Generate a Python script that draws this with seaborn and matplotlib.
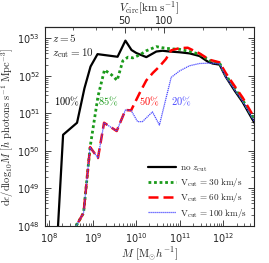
import numpy as np
import pandas as pd
import matplotlib
matplotlib.use("Agg")
import matplotlib.pyplot as plt
import seaborn as sns

# ---- data (log10 values) ----
nocut_logM = [8.18, 8.32, 8.64, 8.81, 8.95, 9.11, 9.57, 9.75, 9.89, 10.0, 10.23, 10.46, 10.60,
              10.76, 10.99, 11.22, 11.45, 11.64, 11.75, 11.91, 12.05, 12.26, 12.44, 12.60, 12.71]
nocut_logY = [47.5, 50.43, 50.75, 51.67, 52.25, 52.58, 52.51, 52.94, 52.69, 52.61, 52.50, 52.65, 52.67,
              52.65, 52.63, 52.60, 52.53, 52.38, 52.33, 52.30, 51.98, 51.60, 51.30, 50.97, 50.75]

v30_logM = [8.50, 8.79, 8.94, 9.12, 9.27, 9.43, 9.56, 9.69, 9.81, 9.92, 10.08, 10.23, 10.46, 10.60,
            10.80, 10.99, 11.22, 11.45, 11.68, 11.91, 12.05, 12.26, 12.44, 12.60, 12.71]
v30_logY = [47.75, 48.35, 50.10, 51.45, 52.16, 52.03, 51.88, 52.40, 52.50, 52.48, 52.56, 52.67, 52.78, 52.75,
            52.72, 52.71, 52.65, 52.58, 52.41, 52.34, 52.03, 51.66, 51.36, 51.03, 50.82]

v60_logM = [8.50, 8.79, 8.94, 9.12, 9.26, 9.55, 9.75, 9.88, 10.08, 10.23, 10.38, 10.53, 10.68,
            10.80, 10.99, 11.18, 11.45, 11.68, 11.91, 12.05, 12.26, 12.44, 12.60, 12.71]
v60_logY = [47.75, 48.35, 50.10, 49.81, 50.75, 50.53, 51.09, 51.08, 51.55, 51.88, 52.08, 52.25, 52.45,
            52.68, 52.74, 52.75, 52.60, 52.43, 52.36, 52.08, 51.72, 51.42, 51.10, 50.88]

v100_logM = [8.50, 8.79, 8.94, 9.12, 9.26, 9.55, 9.75, 9.88, 10.03, 10.14, 10.37, 10.53, 10.80,
             10.99, 11.22, 11.45, 11.68, 11.91, 12.05, 12.26, 12.44, 12.60, 12.71]
v100_logY = [47.75, 48.35, 50.10, 49.81, 50.75, 50.53, 51.09, 51.08, 50.78, 50.78, 51.04, 50.69, 51.96,
             52.13, 52.27, 52.33, 52.34, 52.32, 51.98, 51.62, 51.32, 51.00, 50.78]

labels = [r"$\mathrm{no}\ z_{\rm cut}$", r"$\mathrm{V_{cut}\,=30\ km/s}$",
          r"$\mathrm{V_{cut}\,=60\ km/s}$", r"$\mathrm{V_{cut}\,=100\ km/s}$"]
pct_labels = ["100%", "85%", "50%", "20%"]
pct_logM = [8.40, 9.36, 10.30, 11.04]
pct_logY = 51.31

series = [(nocut_logM, nocut_logY), (v30_logM, v30_logY), (v60_logM, v60_logY), (v100_logM, v100_logY)]
frames = []
for lab, (lm, ly) in zip(labels, series):
    frames.append(pd.DataFrame({"M": 10 ** np.array(lm), "Y": 10 ** np.array(ly), "run": lab}))
df = pd.concat(frames, ignore_index=True)

sns.set_style("ticks")
plt.rcParams["mathtext.fontset"] = "cm"
plt.rcParams["font.family"] = ["DejaVu Sans"]

colors = ["black", "#1a9a1a", "red", "#4a4aff"]
styles = [dict(lw=1.6, ls="-"), dict(lw=2.0, ls=(0, (1, 1))), dict(lw=1.8, ls=(0, (4, 2))),
          dict(lw=0.9, ls=(0, (1, 0.6)))]

fig = plt.figure(figsize=(2.69, 2.63), dpi=100)
ax = fig.add_axes([0.167, 0.141, 0.777, 0.756])

for lab, c, st in zip(labels, colors, styles):
    sns.lineplot(data=df[df["run"] == lab], x="M", y="Y", ax=ax, color=c, label=lab,
                 sort=False, estimator=None, **st)

ax.set_xscale("log")
ax.set_yscale("log")
ax.set_xlim(8e7, 5e12)
ax.set_ylim(1e48, 2e53)
ax.tick_params(which="both", direction="in", top=False, right=True, labelsize=7)
ax.tick_params(which="major", length=4, width=0.6)
ax.tick_params(which="minor", length=2, width=0.5)
for s in ax.spines.values():
    s.set_linewidth(0.8)

ax.set_xlabel(r"$M\ [\mathrm{M_{\odot}}h^{-1}]$", fontsize=8, labelpad=1)
ax.set_ylabel(r"$\mathrm{d}\epsilon/\mathrm{dlog}_{10}M\ [h\ \mathrm{photons\ s^{-1}\ Mpc^{-3}}]$",
              fontsize=7.5, labelpad=1)

def fwd(m):
    m = np.clip(np.asarray(m, dtype=float), 1e-30, None)
    return 50.0 * (m / 10 ** 9.73) ** (1.0 / 3.0)

def inv(v):
    v = np.clip(np.asarray(v, dtype=float), 1e-30, None)
    return 10 ** 9.73 * (v / 50.0) ** 3

sec = ax.secondary_xaxis("top", functions=(fwd, inv))
sec.set_xticks([50, 100])
sec.set_xticklabels(["50", "100"])
sec.set_xticks([20, 30, 40, 60, 70, 80, 90, 200, 300, 400], minor=True)
sec.tick_params(which="both", direction="in", labelsize=7, pad=0.5)
sec.tick_params(which="major", length=4, width=0.6)
sec.tick_params(which="minor", length=2, width=0.5)
sec.set_xlabel(r"$V_{\rm circ}[\mathrm{km\ s^{-1}}]$", fontsize=8, labelpad=3)

ax.text(0.035, 0.975, r"$z=5$", transform=ax.transAxes, fontsize=8, va="top", ha="left")
ax.text(0.035, 0.905, r"$z_{\rm cut}=10$", transform=ax.transAxes, fontsize=8, va="top", ha="left")
for t, lm, c in zip(pct_labels, pct_logM, colors):
    ax.text(10 ** lm, 10 ** pct_logY, r"$\mathrm{" + t.replace("%", r"\%") + "}$", color=c,
            fontsize=7.5, ha="center", va="center")

leg = ax.legend(loc="lower right", frameon=False, fontsize=6.6, handlelength=3.0,
                labelspacing=0.25, borderaxespad=0.3, handletextpad=0.5)

fig.savefig("out.png", dpi=100)
